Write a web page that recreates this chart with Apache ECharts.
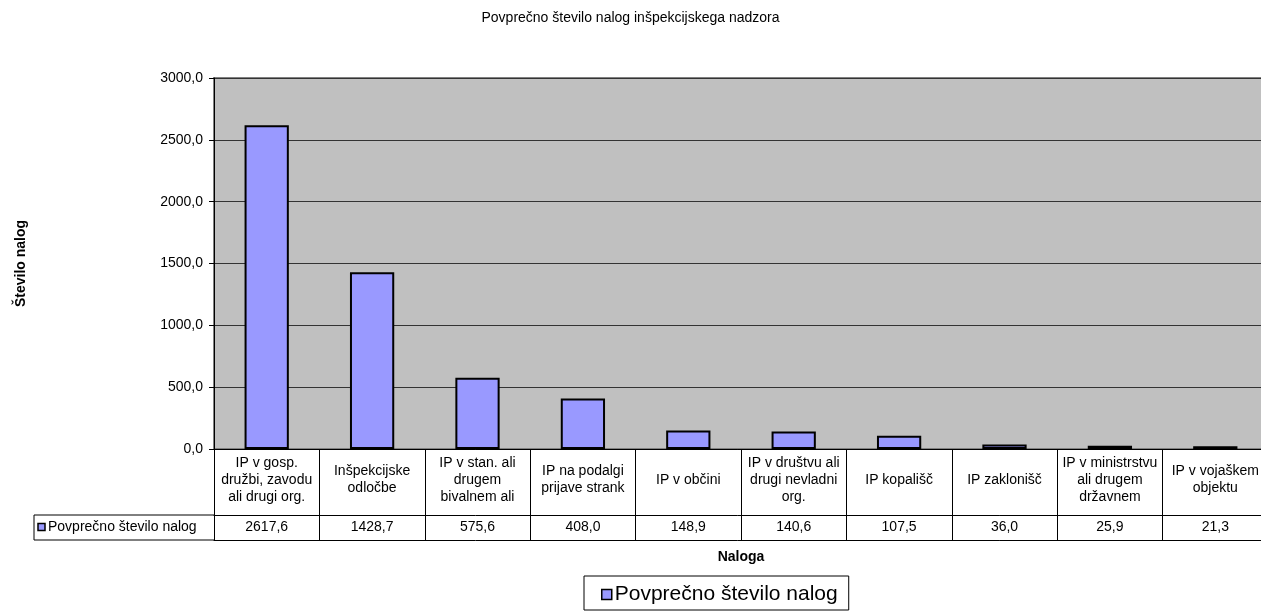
<!DOCTYPE html>
<html>
<head>
<meta charset="utf-8">
<script src="https://cdn.jsdelivr.net/npm/echarts@6/dist/echarts.min.js"></script>
<style>
  html, body { margin: 0; padding: 0; background: #fff; }
  #chart { width: 1261px; height: 614px; }
</style>
</head>
<body>
<div id="chart"></div>
<script>
// Categories (inspection types) and average number of orders per type
const categories = [
  'IP v gosp.\ndružbi, zavodu\nali drugi org.',
  'Inšpekcijske\nodločbe',
  'IP v stan. ali\ndrugem\nbivalnem ali',
  'IP na podalgi\nprijave strank',
  'IP v občini',
  'IP v društvu ali\ndrugi nevladni\norg.',
  'IP kopališč',
  'IP zaklonišč',
  'IP v ministrstvu\nali drugem\ndržavnem',
  'IP v vojaškem\nobjektu'
];
const values = [2617.6, 1428.7, 575.6, 408.0, 148.9, 140.6, 107.5, 36.0, 25.9, 21.3];
const seriesName = 'Povprečno število nalog';
const chartTitle = 'Povprečno število nalog inšpekcijskega nadzora';
const yAxisName = 'Število nalog';
const xAxisName = 'Naloga';

const FONT = '"Liberation Sans", Arial, sans-serif';
const FS = 14;
const fmt = v => Number(v).toFixed(1).replace('.', ',');

// plot area geometry
const G = { left: 214, top: 78, width: 1054, height: 371 };
const catRowH = 66;     // category-name row of the data table
const catLabelMid = 31; // vertical centre of the category names below the axis
const tableH = 91;      // total data table height
const base = G.top + G.height;
const valueMid = base + catRowH + (tableH - catRowH) / 2;

const chart = echarts.init(document.getElementById('chart'));
chart.setOption({
  animation: false,
  textStyle: { fontFamily: FONT, color: '#000' },
  title: {
    text: chartTitle,
    left: 'center',
    top: 6,
    textStyle: { fontFamily: FONT, fontSize: FS, fontWeight: 'normal', color: '#000' }
  },
  legend: {
    data: [seriesName],
    left: 584,
    top: 576,
    icon: 'rect',
    itemWidth: 10,
    itemHeight: 10,
    itemGap: 6,
    padding: [8, 11, 5, 17],
    borderColor: '#000',
    borderWidth: 1,
    backgroundColor: '#fff',
    textStyle: { fontFamily: FONT, fontSize: 21, color: '#000', padding: [0, 0, 0, -2] },
    itemStyle: { borderColor: '#000', borderWidth: 1.5 }
  },
  grid: {
    left: G.left, top: G.top, width: G.width, height: G.height,
    show: true,
    backgroundColor: '#C0C0C0',
    borderColor: '#808080',
    borderWidth: 2,
    containLabel: false,
    outerBoundsMode: 'none'
  },
  xAxis: [
    {
      type: 'category',
      data: categories,
      position: 'bottom',
      axisLine: { show: true, lineStyle: { color: '#000', width: 1 } },
      axisTick: { show: true, interval: 0, length: tableH, lineStyle: { color: '#000', width: 1 } },
      axisLabel: {
        interval: 0,
        verticalAlign: 'middle',
        margin: catLabelMid,
        lineHeight: 17,
        fontSize: FS,
        fontFamily: FONT,
        color: '#000',
        align: 'center'
      },
      splitLine: { show: false }
    },
    {
      type: 'category',
      data: categories,
      position: 'bottom',
      offset: catRowH,
      axisLine: { show: true, lineStyle: { color: '#000', width: 1 } },
      axisTick: { show: false },
      axisLabel: {
        interval: 0,
        verticalAlign: 'middle',
        margin: (tableH - catRowH) / 2,
        fontSize: FS,
        fontFamily: FONT,
        color: '#000',
        formatter: (v, i) => fmt(values[i])
      },
      splitLine: { show: false }
    },
    {
      type: 'category',
      data: categories,
      position: 'bottom',
      offset: tableH,
      axisLine: { show: true, lineStyle: { color: '#000', width: 1 } },
      axisTick: { show: false },
      axisLabel: { show: false },
      splitLine: { show: false },
      name: xAxisName,
      nameLocation: 'middle',
      nameGap: 10,
      nameTextStyle: { fontFamily: FONT, fontSize: FS, fontWeight: 'bold', color: '#000' }
    }
  ],
  yAxis: {
    type: 'value',
    min: 0,
    max: 3000,
    interval: 500,
    axisLine: { show: true, lineStyle: { color: '#000', width: 1 } },
    axisTick: { show: true, length: 5, lineStyle: { color: '#000' } },
    axisLabel: { formatter: fmt, fontSize: FS, fontFamily: FONT, color: '#000', margin: 11 },
    splitLine: { show: true, lineStyle: { color: '#333', width: 1 } },
    name: yAxisName,
    nameLocation: 'middle',
    nameGap: G.left - 28,
    nameRotate: 90,
    nameTextStyle: { fontFamily: FONT, fontSize: FS, fontWeight: 'bold', color: '#000' }
  },
  series: [{
    name: seriesName,
    type: 'bar',
    xAxisIndex: 0,
    data: values,
    barCategoryGap: '58%',
    itemStyle: { color: '#9999FF', borderColor: '#000', borderWidth: 2 }
  }],
  // legend-key cell at the left of the data table's value row
  graphic: [
    {
      type: 'polyline',
      shape: { points: [[G.left, base + catRowH], [34, base + catRowH], [34, base + tableH], [G.left, base + tableH]] },
      style: { stroke: '#000', lineWidth: 1, fill: null }
    },
    {
      type: 'rect',
      shape: { x: 38, y: valueMid - 4, width: 7, height: 7 },
      style: { fill: '#9999FF', stroke: '#000', lineWidth: 1.5 }
    },
    {
      type: 'text',
      x: 48,
      y: valueMid,
      style: { text: seriesName, font: FS + 'px ' + FONT, fill: '#000', verticalAlign: 'middle' }
    }
  ]
});
</script>
</body>
</html>
